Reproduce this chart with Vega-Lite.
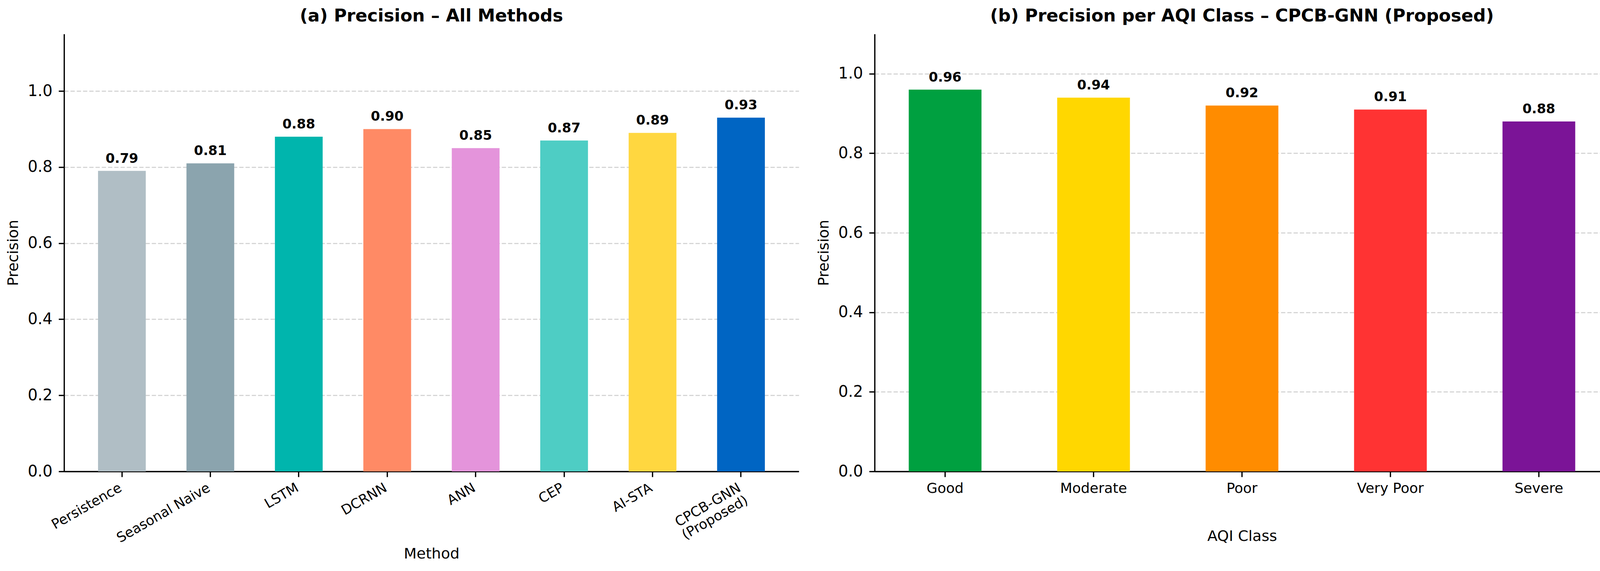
{
  "$schema": "https://vega.github.io/schema/vega-lite/v6.json",
  "padding": {"left": 15, "top": 19, "right": 13, "bottom": 5},
  "config": {
    "font": "DejaVu Sans",
    "view": {"stroke": null},
    "axis": {
      "domainColor": "black", "domainWidth": 3.3,
      "tickColor": "black", "tickWidth": 3.3, "tickSize": 14,
      "labelColor": "black", "titleColor": "black",
      "labelFont": "DejaVu Sans", "titleFont": "DejaVu Sans",
      "titleFontWeight": "normal", "titleFontSize": 38
    },
    "axisY": {
      "gridDash": [11, 5], "gridColor": "#d6d6d6", "gridWidth": 3,
      "labelFontSize": 40, "labelPadding": 16, "titlePadding": 17
    },
    "axisX": {"grid": false},
    "title": {"fontSize": 45, "fontWeight": "bold", "color": "black", "offset": 23, "frame": "group", "anchor": "middle"},
    "concat": {"spacing": 45}
  },
  "resolve": {"scale": {"color": "independent"}},
  "hconcat": [
    {
      "title": "(a) Precision – All Methods",
      "width": 1881,
      "height": 1120,
      "data": {
        "values": [
          {"method": "Persistence", "precision": 0.79},
          {"method": "Seasonal Naive", "precision": 0.81},
          {"method": "LSTM", "precision": 0.88},
          {"method": "DCRNN", "precision": 0.90},
          {"method": "ANN", "precision": 0.85},
          {"method": "CEP", "precision": 0.87},
          {"method": "AI-STA", "precision": 0.89},
          {"method": "CPCB-GNN\n(Proposed)", "precision": 0.93}
        ]
      },
      "encoding": {
        "x": {
          "field": "method", "type": "nominal", "sort": null,
          "scale": {"paddingInner": 0.46, "paddingOuter": 0.384},
          "axis": {
            "title": "Method", "labelAngle": -30, "labelAlign": "right", "labelBaseline": "top",
            "labelFontSize": 35, "labelOffset": -12, "labelPadding": 10, "labelLimit": 1000,
            "labelOverlap": false, "labelExpr": "split(datum.label, '\\n')", "titlePadding": 4
          }
        },
        "y": {
          "field": "precision", "type": "quantitative",
          "scale": {"domain": [0, 1.15], "nice": false},
          "axis": {"title": "Precision", "values": [0, 0.2, 0.4, 0.6, 0.8, 1.0], "format": ".1f"}
        }
      },
      "layer": [
        {
          "mark": {"type": "bar"},
          "encoding": {
            "color": {
              "field": "method", "type": "nominal", "legend": null,
              "scale": {
                "domain": ["Persistence", "Seasonal Naive", "LSTM", "DCRNN", "ANN", "CEP", "AI-STA", "CPCB-GNN\n(Proposed)"],
                "range": ["#B0BEC5", "#8BA4AE", "#00B5AD", "#FF8A65", "#E494DB", "#4ECDC4", "#FFD740", "#0065C3"]
              }
            }
          }
        },
        {
          "mark": {"type": "text", "dy": -21, "baseline": "alphabetic", "fontSize": 34, "fontWeight": "bold", "color": "black"},
          "encoding": {"text": {"field": "precision", "type": "quantitative", "format": ".2f"}}
        }
      ]
    },
    {
      "title": "(b) Precision per AQI Class – CPCB-GNN (Proposed)",
      "width": 1881,
      "height": 1120,
      "data": {
        "values": [
          {"cls": "Good", "precision": 0.96},
          {"cls": "Moderate", "precision": 0.94},
          {"cls": "Poor", "precision": 0.92},
          {"cls": "Very Poor", "precision": 0.91},
          {"cls": "Severe", "precision": 0.88}
        ]
      },
      "encoding": {
        "x": {
          "field": "cls", "type": "nominal", "sort": null,
          "scale": {"paddingInner": 0.51, "paddingOuter": 0.23},
          "axis": {
            "title": "AQI Class", "labelAngle": 0, "labelFontSize": 36, "labelPadding": 12,
            "labelLimit": 1000, "labelOverlap": false, "titlePadding": 86
          }
        },
        "y": {
          "field": "precision", "type": "quantitative",
          "scale": {"domain": [0, 1.1], "nice": false},
          "axis": {"title": "Precision", "values": [0, 0.2, 0.4, 0.6, 0.8, 1.0], "format": ".1f"}
        }
      },
      "layer": [
        {
          "mark": {"type": "bar"},
          "encoding": {
            "color": {
              "field": "cls", "type": "nominal", "legend": null,
              "scale": {
                "domain": ["Good", "Moderate", "Poor", "Very Poor", "Severe"],
                "range": ["#00A040", "#FFD700", "#FF8C00", "#FF3333", "#7B1497"]
              }
            }
          }
        },
        {
          "mark": {"type": "text", "dy": -21, "baseline": "alphabetic", "fontSize": 34, "fontWeight": "bold", "color": "black"},
          "encoding": {"text": {"field": "precision", "type": "quantitative", "format": ".2f"}}
        }
      ]
    }
  ]
}
